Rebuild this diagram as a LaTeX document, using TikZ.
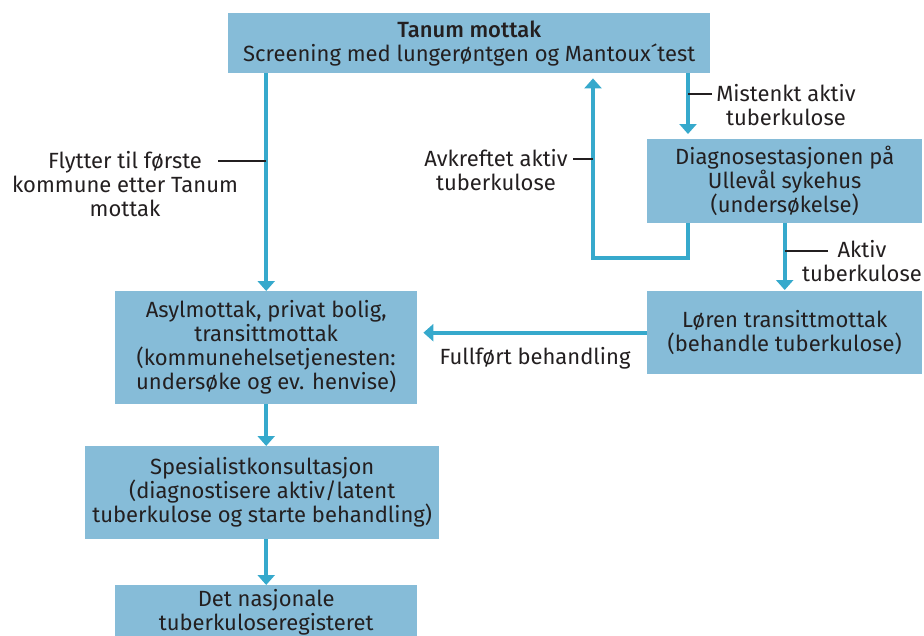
\documentclass[tikz,border=0pt]{standalone}
\usepackage{fontspec}
\setmainfont{Fira Sans}[BoldFont={Fira Sans Medium}]
\usetikzlibrary{arrows.meta}
\definecolor{boxc}{HTML}{86BCD8}
\definecolor{arrc}{HTML}{36A9CC}
\definecolor{txt}{HTML}{231F20}
\begin{document}
\begin{tikzpicture}[x=1pt,y=-1pt,
  box/.style={fill=boxc, draw=none, anchor=north west, align=center, text=txt, inner sep=0pt,
    font=\fontsize{22}{24}\selectfont},
  lbl/.style={align=center, text=txt, inner sep=0pt, font=\fontsize{22}{24}\selectfont},
  arr/.style={draw=arrc, line width=4pt, -{Triangle[width=17pt,length=10pt]}},
  tick/.style={draw=txt, line width=1.2pt}]
\useasboundingbox (0,0) rectangle (924,635);
\node[box, minimum width=482pt, minimum height=60pt] (tanum) at (228,13)
  {{\bfseries Tanum mottak}\\Screening med lungerøntgen og Mantoux´test};
\node[box, minimum width=275pt, minimum height=84pt] (diag) at (647,139)
  {Diagnosestasjonen på\\Ullevål sykehus\\(undersøkelse)};
\node[box, minimum width=275pt, minimum height=83pt] (loren) at (647,291)
  {Løren transittmottak\\(behandle tuberkulose)};
\node[box, minimum width=302pt, minimum height=113pt] (asyl) at (115,291)
  {Asylmottak, privat bolig,\\transittmottak\\(kommunehelsetjenesten:\\undersøke og ev. henvise)};
\node[box, minimum width=354pt, minimum height=93pt] (spes) at (85,446)
  {Spesialistkonsultasjon\\(diagnostisere aktiv/latent\\tuberkulose og starte behandling)};
\node[box, minimum width=302pt, minimum height=55pt] (det) at (115,585)
  {Det nasjonale\\tuberkuloseregisteret};
% connectors
\coordinate (m) at (688,0);
\coordinate (a1) at (593,258);
\draw[arr] (asyl.north |- tanum.south) -- (asyl.north);
\draw[arr] (asyl.south) -- (asyl.south |- spes.north);
\draw[arr] (spes.south -| det.north) -- (det.north);
\draw[arr, shorten >=5pt] (tanum.south -| m) -- (diag.north -| m);
\draw[arr, shorten >=5pt] (diag.south -| m) |- (a1) -- (a1 |- tanum.south);
\draw[arr, shorten >=1pt] (diag.south) -- (loren.north);
\draw[arr, shorten >=6pt] (loren.west) -- (asyl.east |- loren.west);
% labels
\node[lbl] (l1) at (125,184) {Flytter til første\\kommune etter Tanum\\mottak};
\coordinate (t1) at (218,161);
\draw[tick] (t1) -- (t1 -| asyl.north);
\node[lbl] (l2) at (786,105.5) {Mistenkt aktiv\\tuberkulose};
\coordinate (t2) at (712,94);
\draw[tick] (t2) -- (t2 -| m);
\node[lbl] (l3) at (496,170) {Avkreftet aktiv\\tuberkulose};
\coordinate (t3) at (573,159);
\draw[tick] (t3) -- (t3 -| a1);
\node[lbl] (l4) at (862,261.5) {Aktiv\\tuberkulose};
\coordinate (t4) at (828,251);
\draw[tick] (t4) -- (t4 -| diag.south);
\node[lbl] (l5) at (535,358) {Fullført behandling};
\end{tikzpicture}
\end{document}
